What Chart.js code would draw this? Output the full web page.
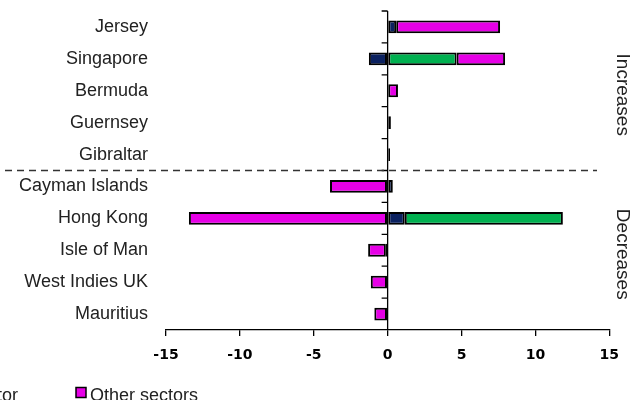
<!DOCTYPE html>
<html>
<head>
<meta charset="utf-8">
<script src="https://cdn.jsdelivr.net/npm/chart.js@4"></script>
<style>
  html, body { margin:0; padding:0; background:#fff; }
  #wrap { width:630px; height:400px; position:relative; }
</style>
</head>
<body>
<div id="wrap"><canvas id="chart" width="630" height="400"></canvas></div>
<script>
/* ---------- Data ---------- */
const categories = ['Jersey','Singapore','Bermuda','Guernsey','Gibraltar',
                    'Cayman Islands','Hong Kong','Isle of Man','West Indies UK','Mauritius'];
const bankValues  = [0.58, -1.27, 0,   0,    0,    0.35, 1.16,  -0.12, 0,     0];
const greenValues = [0,    4.67,  0,   0,    0,    0,    10.7,  0,     0,     0];
const otherValues = [7.03, 3.28,  0.7, 0.22, 0.16, -3.9, -13.45, -1.2, -1.14, -0.9];
const seriesLabels = ['Banking sector','Official sector','Other sectors'];
const xTicks = [-15,-10,-5,0,5,10,15];
const groupLabels = ['Increases','Decreases'];

const NAVY = '#0b2160', GREEN = '#00b050', MAGENTA = '#e600e6';
const FONT = '"Liberation Sans", Arial, sans-serif';

/* ---------- Extras: zero axis, dashed divider, side labels, legend ---------- */
const extras = {
  id:'extras',
  afterDatasetsDraw(chart){
    const { ctx, scales:{ x, y }, chartArea } = chart;
    const x0 = x.getPixelForValue(0);
    const step = y.getPixelForValue(1) - y.getPixelForValue(0);
    ctx.save();

    // zero axis with tick marks on category boundaries
    ctx.strokeStyle = '#000';
    ctx.lineWidth = 1.3;
    ctx.beginPath();
    ctx.moveTo(x0, chartArea.top);
    ctx.lineTo(x0, chartArea.bottom);
    for(let i = 0; i < categories.length; i++){
      const yy = y.getPixelForValue(i) - step/2;
      ctx.moveTo(x0 - 6, yy);
      ctx.lineTo(x0, yy);
    }
    ctx.stroke();

    // dashed divider between increases and decreases
    const yd = y.getPixelForValue(4.5);
    ctx.setLineDash([7,5]);
    ctx.strokeStyle = '#333';
    ctx.lineWidth = 1.5;
    ctx.beginPath();
    ctx.moveTo(5, yd);
    ctx.lineTo(597, yd);
    ctx.stroke();
    ctx.setLineDash([]);

    // rotated group labels on the right
    ctx.fillStyle = '#222';
    ctx.font = '19px ' + FONT;
    ctx.textAlign = 'center';
    ctx.textBaseline = 'middle';
    [[0,4],[5,9]].forEach(([a,b], i) => {
      const yc = (y.getPixelForValue(a) + y.getPixelForValue(b)) / 2 + 4;
      ctx.save();
      ctx.translate(622, yc);
      ctx.rotate(Math.PI/2);
      ctx.fillText(groupLabels[i], 0, 0);
      ctx.restore();
    });

    // legend (partly cut off at the left edge, as in the source)
    const colors = [NAVY, GREEN, MAGENTA];
    ctx.font = '18px ' + FONT;
    ctx.textAlign = 'left';
    ctx.textBaseline = 'alphabetic';
    const drawEntry = (i, mx) => {
      ctx.fillStyle = colors[i];
      ctx.fillRect(mx, 387.5, 10, 10);
      ctx.strokeStyle = '#000';
      ctx.lineWidth = 1.5;
      ctx.strokeRect(mx, 387.5, 10, 10);
      ctx.fillStyle = '#222';
      ctx.fillText(seriesLabels[i], mx + 14, 401);
    };
    drawEntry(2, 76);
    const w1 = ctx.measureText(seriesLabels[1]).width;
    drawEntry(1, 18 - w1 - 14);
    const w0 = ctx.measureText(seriesLabels[0]).width;
    drawEntry(0, 18 - w1 - 14 - 60 - w0 - 14);

    ctx.restore();
  }
};

const barStyle = { borderColor:'#000', borderWidth:2, borderSkipped:false,
                   barPercentage:0.4, categoryPercentage:1 };

new Chart(document.getElementById('chart'), {
  type:'bar',
  data:{
    labels: categories,
    datasets:[
      { label:seriesLabels[0], data:bankValues,  backgroundColor:NAVY,    ...barStyle },
      { label:seriesLabels[1], data:greenValues, backgroundColor:GREEN,   ...barStyle },
      { label:seriesLabels[2], data:otherValues, backgroundColor:MAGENTA, ...barStyle }
    ]
  },
  options:{
    indexAxis:'y',
    responsive:false,
    animation:false,
    layout:{ padding:{ top:11, right:19, left:0, bottom:0 } },
    plugins:{ legend:{ display:false }, tooltip:{ enabled:false } },
    scales:{
      x:{
        stacked:true, min:-15, max:15,
        afterBuildTicks:(s) => { s.ticks = xTicks.map(v => ({ value:v })); },
        afterFit:(s) => { s.height = 70; },
        grid:{ drawOnChartArea:false, drawTicks:true, tickLength:6, color:'#000', lineWidth:1.3 },
        border:{ display:true, color:'#000', width:1.3 },
        ticks:{ color:'#000', padding:11, font:{ family:'"DejaVu Sans", Verdana, sans-serif', size:14, weight:'bold' } }
      },
      y:{
        stacked:true,
        afterFit:(s) => { s.width = 166; s.paddingTop = 0; s.paddingBottom = 0; },
        grid:{ display:false, drawTicks:false },
        border:{ display:false },
        ticks:{ color:'#222', padding:18, font:{ family:FONT, size:18 } }
      }
    }
  },
  plugins:[extras]
});
</script>
</body>
</html>
